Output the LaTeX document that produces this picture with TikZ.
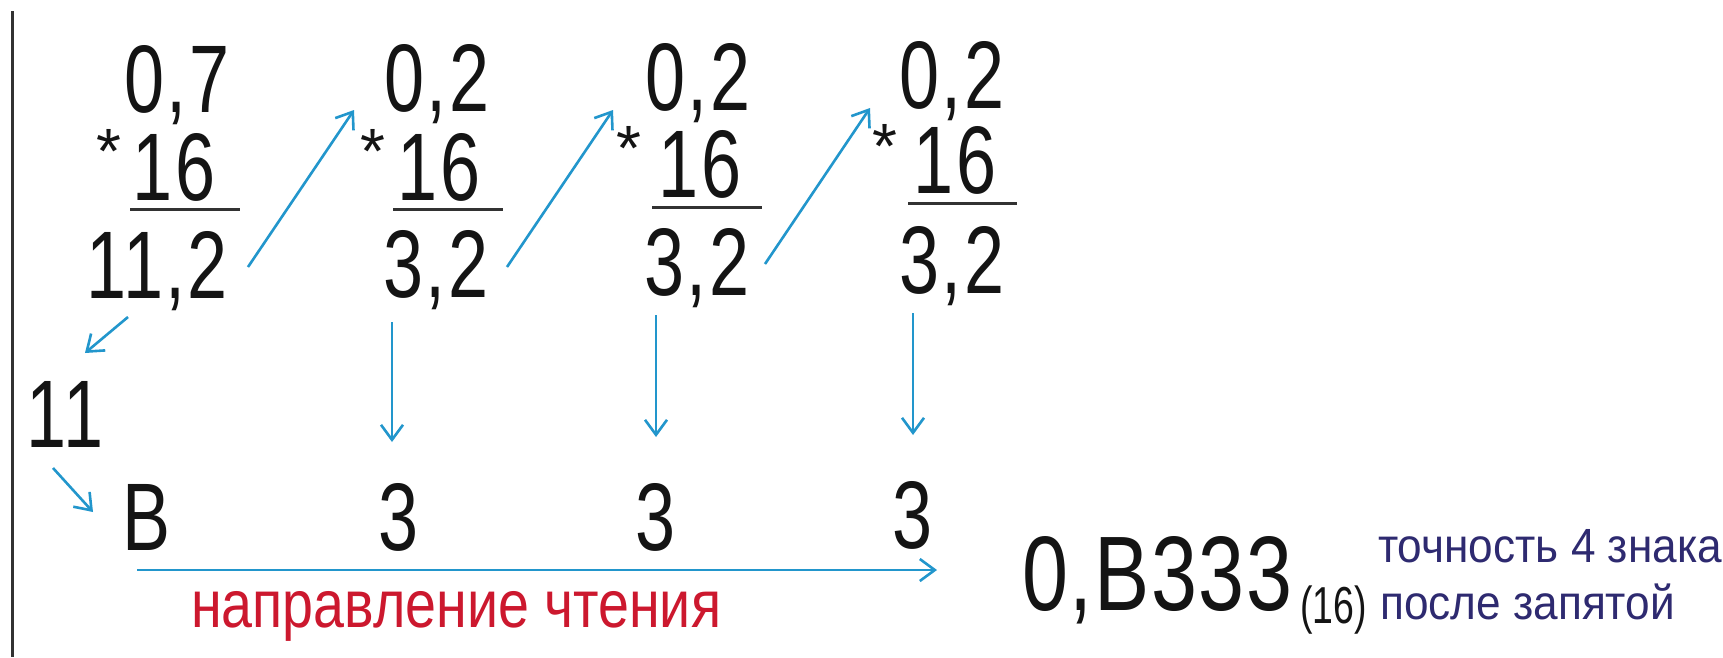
\documentclass[tikz,border=0pt]{standalone}
\usepackage{fontspec}
\setmainfont{Liberation Sans}
\newfontfamily\digf[FakeStretch=0.75,LetterSpace=2.5]{Liberation Sans}
\newfontfamily\resf[FakeStretch=0.78,LetterSpace=1.5]{Liberation Sans}
\newfontfamily\subf[FakeStretch=0.72]{Liberation Sans}
\newfontfamily\redf[FakeStretch=0.83]{Liberation Sans}
\newfontfamily\bluf[FakeStretch=0.92]{Liberation Sans}
\usetikzlibrary{arrows.meta}
\definecolor{arrc}{RGB}{34,150,204}
\definecolor{inkc}{RGB}{20,20,20}
\definecolor{rulec}{RGB}{50,50,50}
\definecolor{redc}{RGB}{204,24,46}
\definecolor{bluc}{RGB}{46,42,112}
\tikzset{
  num/.style={inner sep=0pt, anchor=base, text=inkc, font=\digf\fontsize{96}{96}\selectfont},
  starsym/.style={inner sep=0pt, anchor=north, text=inkc, font=\fontsize{64}{64}\selectfont},
  rulebar/.style={draw=rulec, line width=3pt},
  conn/.style={draw=arrc, line width=2.6pt, -{Straight Barb[length=15pt,width=22pt]}},
  note/.style={inner sep=0pt, anchor=base west, text=bluc, font=\bluf\fontsize{48}{48}\selectfont},
}
\begin{document}
\begin{tikzpicture}[x=1pt,y=-1pt]
\useasboundingbox (0,0) rectangle (1723,657);
\fill[white] (0,0) rectangle (1723,657);
% left border
\draw[draw=rulec, line width=3pt] (12,11) -- (12,657);

% column 1
\node[num] (c1a) at (177,112) {0,7};
\node[starsym] (c1s) at (109,129) {*};
\node[num] (c1b) at (174,200) {16};
\draw[rulebar] (130,209) -- (240,209);
\node[num] (c1r) at (157,298) {11,2};

% column 2
\node[num] (c2a) at (437,111) {0,2};
\node[starsym] (c2s) at (373,129) {*};
\node[num] (c2b) at (439,200) {16};
\draw[rulebar] (393,209) -- (503,209);
\node[num] (c2r) at (436,297) {3,2};

% column 3
\node[num] (c3a) at (698,110) {0,2};
\node[starsym] (c3s) at (629,126) {*};
\node[num] (c3b) at (700,197) {16};
\draw[rulebar] (652,207) -- (762,207);
\node[num] (c3r) at (697,295) {3,2};

% column 4
\node[num] (c4a) at (952,108) {0,2};
\node[starsym] (c4s) at (885,124) {*};
\node[num] (c4b) at (955,193) {16};
\draw[rulebar] (908,203) -- (1017,203);
\node[num] (c4r) at (952,293) {3,2};

% lower row
\node[num] (n11) at (65,447) {11};
\node[num] (dB) at (147,550) {B};
\node[num] (d2) at (399,550) {3};
\node[num] (d3) at (656,550) {3};
\node[num] (d4) at (913,548) {3};

% result
\node[inner sep=0pt, anchor=base west, text=inkc, font=\resf\fontsize{106}{106}\selectfont] (res) at (1022,610) {0,B333};
\node[inner sep=0pt, anchor=base west, text=inkc, font=\subf\fontsize{52}{52}\selectfont] (base) at (1300,623) {(16)};
\node[note] (note1) at (1378,562) {точность 4 знака};
\node[note] (note2) at (1380,619) {после запятой};
\node[inner sep=0pt, anchor=base west, text=redc, font=\redf\fontsize{67}{67}\selectfont] (dir) at (191,627) {направление чтения};

% connector end points
\coordinate (a1s) at (248,267); \coordinate (a1e) at (354,110);
\coordinate (a2s) at (507,267); \coordinate (a2e) at (613,110);
\coordinate (a3s) at (765,264); \coordinate (a3e) at (870,108);
\coordinate (b1s) at (128,317); \coordinate (b1e) at (85,353);
\coordinate (b2s) at (53,468);  \coordinate (b2e) at (93,512);
\coordinate (v2s) at (392,322); \coordinate (v2e) at (392,442);
\coordinate (v3s) at (656,315); \coordinate (v3e) at (656,437);
\coordinate (v4s) at (913,313); \coordinate (v4e) at (913,435);
\coordinate (hs) at (137,570);  \coordinate (he) at (937,570);

\draw[conn] (a1s) -- (a1e);
\draw[conn] (a2s) -- (a2e);
\draw[conn] (a3s) -- (a3e);
\draw[conn] (b1s) -- (b1e);
\draw[conn] (b2s) -- (b2e);
\draw[conn] (v2s) -- (v2e);
\draw[conn] (v3s) -- (v3e);
\draw[conn] (v4s) -- (v4e);
\draw[conn] (hs) -- (he);
\end{tikzpicture}
\end{document}
